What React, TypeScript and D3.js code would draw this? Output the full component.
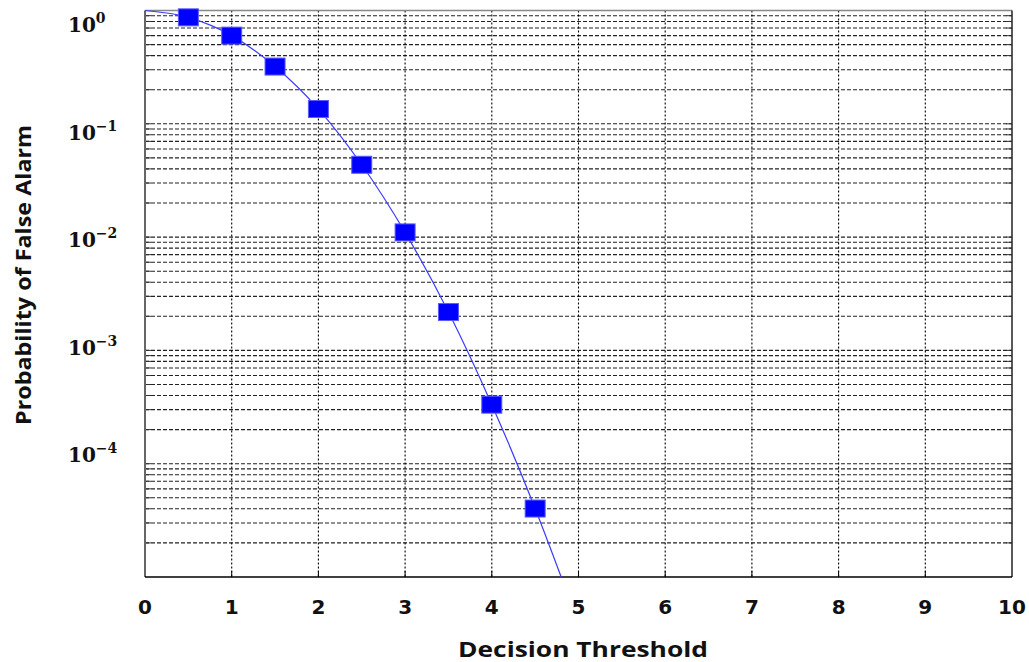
import React, { useEffect, useRef } from 'react';
import * as d3 from 'd3';

// decision thresholds with markers
const thresholds = [0.5, 1, 1.5, 2, 2.5, 3, 3.5, 4, 4.5];
// probability of false alarm read at each marker
const pfa = [0.87, 0.6, 0.32, 0.135, 0.0435, 0.011, 0.00218, 0.000332, 0.0000402];
// the thin curve runs from the top-left corner past the last marker to the bottom edge
const curveX = [0, 0.5, 1, 1.5, 2, 2.5, 3, 3.5, 4, 4.5, 4.8];
const curveY = [1, 0.87, 0.6, 0.32, 0.135, 0.0435, 0.011, 0.00218, 0.000332, 0.0000402, 0.00001];

const xTicks = [0, 1, 2, 3, 4, 5, 6, 7, 8, 9, 10];
const yDecades = [0, -1, -2, -3, -4];

const W = 1029;
const H = 662;

export default function App() {
  const svgRef = useRef<SVGSVGElement | null>(null);

  useEffect(() => {
    const margin = { top: 10.5, right: 17, bottom: 85, left: 145 };
    const innerW = W - margin.left - margin.right;
    const innerH = H - margin.top - margin.bottom;

    const svg = d3.select(svgRef.current);
    svg.selectAll('*').remove();

    const x = d3.scaleLinear().domain([0, 10]).range([0, innerW]);
    const y = d3.scaleLog().domain([1e-5, 1]).range([innerH, 0]);
    // tick labels in the original sit on a slightly tighter spacing than the grid
    const yLab = d3.scaleLog().domain([1e-4, 1]).range([455 - margin.top, 25 - margin.top]);

    const g = svg.append('g').attr('transform', `translate(${margin.left},${margin.top})`);

    // horizontal log grid: 1..9 x 10^k
    const yGrid: number[] = [];
    for (let k = -5; k < 0; k++) {
      for (let m = 1; m < 10; m++) yGrid.push(m * Math.pow(10, k));
    }
    const yt = yGrid.filter(v => v > 1e-5 && v < 1);

    g.append('g')
      .selectAll('line')
      .data(yt)
      .enter()
      .append('line')
      .attr('x1', 0)
      .attr('x2', innerW)
      .attr('y1', d => y(d))
      .attr('y2', d => y(d))
      .attr('stroke', '#222')
      .attr('stroke-width', 1.1)
      .attr('stroke-dasharray', '4,2');

    // vertical grid
    g.append('g')
      .selectAll('line')
      .data(xTicks.filter(v => v > 0 && v < 10))
      .enter()
      .append('line')
      .attr('x1', d => x(d))
      .attr('x2', d => x(d))
      .attr('y1', 0)
      .attr('y2', innerH)
      .attr('stroke', '#000')
      .attr('stroke-width', 1.1)
      .attr('stroke-dasharray', '2,2');

    // inward ticks
    const tickLen = 6;
    g.append('g')
      .selectAll('line')
      .data(yt)
      .enter()
      .append('line')
      .attr('x1', 0)
      .attr('x2', tickLen)
      .attr('y1', d => y(d))
      .attr('y2', d => y(d))
      .attr('stroke', '#333');
    g.append('g')
      .selectAll('line')
      .data(yt)
      .enter()
      .append('line')
      .attr('x1', innerW - tickLen)
      .attr('x2', innerW)
      .attr('y1', d => y(d))
      .attr('y2', d => y(d))
      .attr('stroke', '#333');
    g.append('g')
      .selectAll('line')
      .data(xTicks.filter(v => v > 0 && v < 10))
      .enter()
      .append('line')
      .attr('x1', d => x(d))
      .attr('x2', d => x(d))
      .attr('y1', innerH - tickLen)
      .attr('y2', innerH)
      .attr('stroke', '#000');

    // frame
    g.append('line').attr('x1', 0).attr('x2', innerW).attr('y1', 0).attr('y2', 0)
      .attr('stroke', '#888').attr('stroke-width', 1.5);
    g.append('line').attr('x1', innerW).attr('x2', innerW).attr('y1', 0).attr('y2', innerH)
      .attr('stroke', '#222').attr('stroke-width', 1.5);
    g.append('line').attr('x1', 0).attr('x2', 0).attr('y1', 0).attr('y2', innerH)
      .attr('stroke', '#666').attr('stroke-width', 2);
    g.append('line').attr('x1', 0).attr('x2', innerW).attr('y1', innerH).attr('y2', innerH)
      .attr('stroke', '#000').attr('stroke-width', 1.5);

    // curve
    const line = d3.line<number>()
      .x((d, i) => x(curveX[i]))
      .y(d => y(d))
      .curve(d3.curveMonotoneX);
    g.append('path')
      .datum(curveY)
      .attr('d', line)
      .attr('fill', 'none')
      .attr('stroke', '#3a3aff')
      .attr('stroke-width', 1.2);

    // markers
    const mw = 20;
    const mh = 17;
    g.selectAll('.marker')
      .data(thresholds)
      .enter()
      .append('rect')
      .attr('class', 'marker')
      .attr('x', d => x(d) - mw / 2)
      .attr('y', (d, i) => y(pfa[i]) - mh / 2)
      .attr('width', mw)
      .attr('height', mh)
      .attr('fill', '#0000ff')
      .attr('stroke', '#5a5aff')
      .attr('stroke-width', 1);

    // x tick labels
    g.append('g')
      .selectAll('text')
      .data(xTicks)
      .enter()
      .append('text')
      .attr('x', d => x(d))
      .attr('y', innerH + 37)
      .attr('text-anchor', 'middle')
      .attr('font-family', '"DejaVu Sans", Verdana, sans-serif')
      .attr('font-weight', 'bold')
      .attr('font-size', 20)
      .attr('fill', '#111')
      .text(d => String(d));

    // y tick labels 10^k
    const yl = svg.append('g');
    yDecades.forEach(k => {
      const t = yl.append('text')
        .attr('x', 68)
        .attr('y', margin.top + yLab(Math.pow(10, k)) + 7)
        .attr('font-family', '"DejaVu Serif", serif')
        .attr('font-weight', 'bold')
        .attr('font-size', 20)
        .attr('fill', '#111');
      t.append('tspan').text('10');
      t.append('tspan')
        .attr('dy', -9)
        .attr('font-size', 14)
        .text(k === 0 ? '0' : `\u2212${-k}`);
    });

    // axis titles
    svg.append('text')
      .attr('x', 458)
      .attr('y', 657)
      .attr('textLength', 250)
      .attr('lengthAdjust', 'spacingAndGlyphs')
      .attr('font-family', '"Open Sans", sans-serif')
      .attr('font-weight', 'bold')
      .attr('font-size', 22)
      .attr('fill', '#111')
      .text('Decision Threshold');

    svg.append('text')
      .attr('transform', `translate(31,425) rotate(-90)`)
      .attr('textLength', 300)
      .attr('lengthAdjust', 'spacingAndGlyphs')
      .attr('font-family', '"Open Sans", sans-serif')
      .attr('font-weight', 'bold')
      .attr('font-size', 22)
      .attr('fill', '#111')
      .text('Probability of False Alarm');
  }, []);

  return (
    <div style={{ position: 'absolute', left: 0, top: 0, width: W, height: H, background: '#fff' }}>
      <svg ref={svgRef} width={W} height={H} style={{ display: 'block' }} />
    </div>
  );
}
